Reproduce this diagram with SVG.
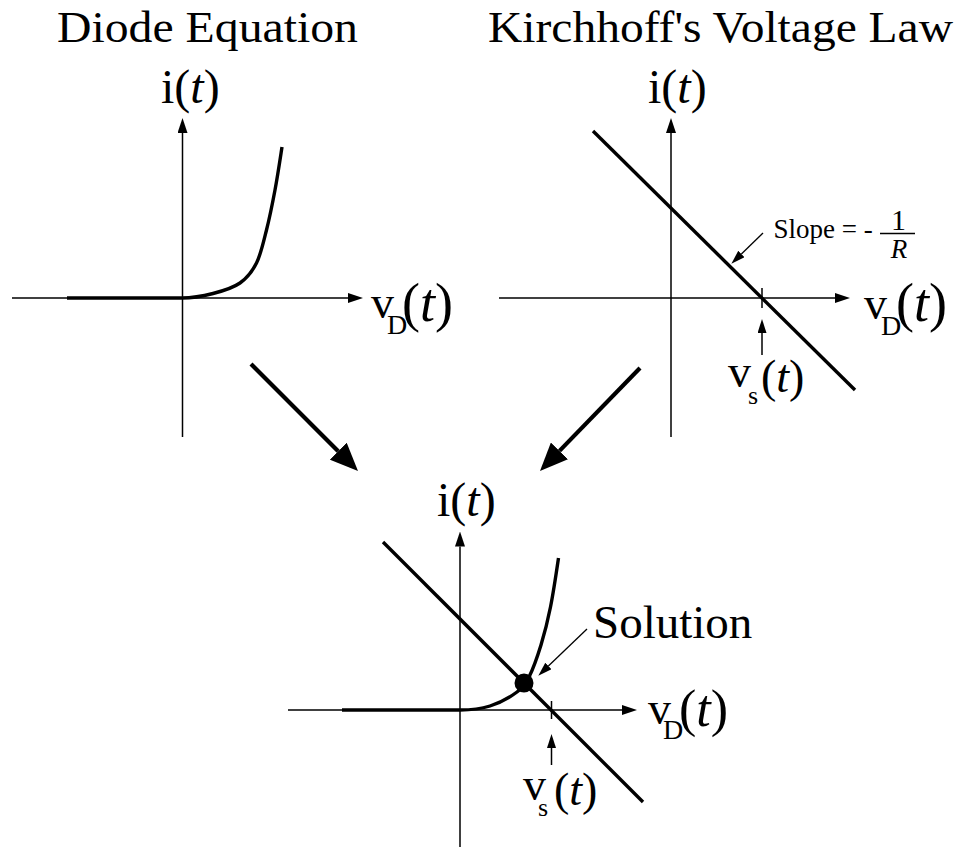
<svg xmlns="http://www.w3.org/2000/svg" width="962" height="849" viewBox="0 0 962 849">
<style>
  text { font-family: "Liberation Serif", "Times New Roman", serif; fill: #000; }
  .axis { stroke: #000; stroke-width: 1.5; fill: none; }
  .thick { stroke: #000; stroke-width: 3.4; fill: none; }
  .thin { stroke: #000; stroke-width: 1.3; fill: none; }
  .big { stroke: #000; stroke-width: 4.2; fill: none; }
  .it { font-style: italic; }
</style>
<defs>
  <marker id="axisHead" markerUnits="userSpaceOnUse" markerWidth="15" markerHeight="10" refX="0" refY="5" orient="auto">
    <path d="M0,0 L15,5 L0,10 Z" fill="#000"/>
  </marker>
  <marker id="smallHead" markerUnits="userSpaceOnUse" markerWidth="14" markerHeight="9" refX="0" refY="4.5" orient="auto">
    <path d="M0,0 L14,4.5 L0,9 Z" fill="#000"/>
  </marker>
  <marker id="bigHead" markerUnits="userSpaceOnUse" markerWidth="28" markerHeight="24" refX="0" refY="12" orient="auto">
    <path d="M0,0 L28,12 L0,24 Z" fill="#000"/>
  </marker>
</defs>

<g id="diode-graph">
  <text x="57" y="42" font-size="45" textLength="301" lengthAdjust="spacingAndGlyphs">Diode Equation</text>
  <line class="axis" x1="182.5" y1="437" x2="182.5" y2="133" marker-end="url(#axisHead)"/>
  <line class="axis" x1="12" y1="298" x2="348" y2="298" marker-end="url(#axisHead)"/>
  <line class="thick" x1="67" y1="298" x2="182.5" y2="298"/>
  <path class="thick" d="M182,298 C192.3,298 203.3,296 213,293.5 C222.7,291 232.75,288.1 240,283 C247.25,277.9 252.1,271.8 256.5,263 C260.9,254.2 263.4,242.2 266.5,230 C269.6,217.8 272.4,203.8 275,190 C277.6,176.2 279.8,161.3 282,147"/>
  <text x="161" y="103" font-size="48">i(<tspan class="it">t</tspan>)</text>
  <text font-size="46"><tspan x="371" y="318">v</tspan><tspan x="387" y="334" font-size="28">D</tspan><tspan x="402" y="321" font-size="54">(<tspan class="it">t</tspan>)</tspan></text>
</g>

<g id="kvl-graph">
  <text x="488" y="42" font-size="45" textLength="465" lengthAdjust="spacingAndGlyphs">Kirchhoff's Voltage Law</text>
  <line class="axis" x1="671" y1="437" x2="671" y2="133" marker-end="url(#axisHead)"/>
  <line class="axis" x1="499" y1="298" x2="835" y2="298" marker-end="url(#axisHead)"/>
  <line class="thick" x1="593" y1="131" x2="855" y2="390"/>
  <line class="axis" x1="762" y1="288" x2="762" y2="308"/>
  <line class="axis" x1="762" y1="355" x2="762" y2="333" marker-end="url(#smallHead)"/>
  <line class="thin" x1="763" y1="233" x2="741.4" y2="254" marker-end="url(#smallHead)"/>
  <text x="773.5" y="238" font-size="27">Slope = -</text>
  <line class="thin" x1="880" y1="233.5" x2="915" y2="233.5"/>
  <text x="898.5" y="230" font-size="30" text-anchor="middle">1</text>
  <text x="899" y="258" font-size="27" text-anchor="middle" class="it">R</text>
  <text x="648" y="103" font-size="48">i(<tspan class="it">t</tspan>)</text>
  <text font-size="46"><tspan x="864" y="319">v</tspan><tspan x="881" y="335" font-size="28">D</tspan><tspan x="896" y="321" font-size="54">(<tspan class="it">t</tspan>)</tspan></text>
  <text font-size="46"><tspan x="728" y="387">v</tspan><tspan x="748" y="404" font-size="26">s</tspan><tspan x="761" y="392" font-size="46">(<tspan class="it">t</tspan>)</tspan></text>
</g>

<g id="solution-graph">
  <line class="axis" x1="460" y1="847" x2="460" y2="546.5" marker-end="url(#axisHead)"/>
  <line class="axis" x1="288" y1="710" x2="622" y2="710" marker-end="url(#axisHead)"/>
  <line class="thick" x1="342" y1="710" x2="460" y2="710"/>
  <path class="thick" d="M460,710 C470,710 480.5,709 490,706 C499.5,703 510.5,696.8 517,692 C523.5,687.2 525,684.8 529,677 C533,669.2 537.4,656.7 541,645 C544.6,633.3 547.6,621.5 550.5,607 C553.4,592.5 556.1,574.3 558.5,558"/>
  <line class="thick" x1="383" y1="542" x2="643" y2="802"/>
  <line class="axis" x1="551.5" y1="701" x2="551.5" y2="719"/>
  <line class="axis" x1="551.5" y1="765" x2="551.5" y2="748" marker-end="url(#smallHead)"/>
  <circle cx="524" cy="683" r="9.5" fill="#000"/>
  <line class="thin" x1="587" y1="629" x2="548.4" y2="666" marker-end="url(#smallHead)"/>
  <text x="593" y="638" font-size="47">Solution</text>
  <text x="437" y="516" font-size="48">i(<tspan class="it">t</tspan>)</text>
  <text font-size="46"><tspan x="648" y="724">v</tspan><tspan x="663" y="739" font-size="28">D</tspan><tspan x="679" y="726" font-size="52">(<tspan class="it">t</tspan>)</tspan></text>
  <text font-size="46"><tspan x="523" y="800">v</tspan><tspan x="538" y="816" font-size="26">s</tspan><tspan x="554" y="805" font-size="46">(<tspan class="it">t</tspan>)</tspan></text>
</g>

<g id="connectors">
  <line class="big" x1="251" y1="364" x2="338.2" y2="451.2" marker-end="url(#bigHead)"/>
  <line class="big" x1="640" y1="368" x2="559.5" y2="450.9" marker-end="url(#bigHead)"/>
</g>
</svg>
